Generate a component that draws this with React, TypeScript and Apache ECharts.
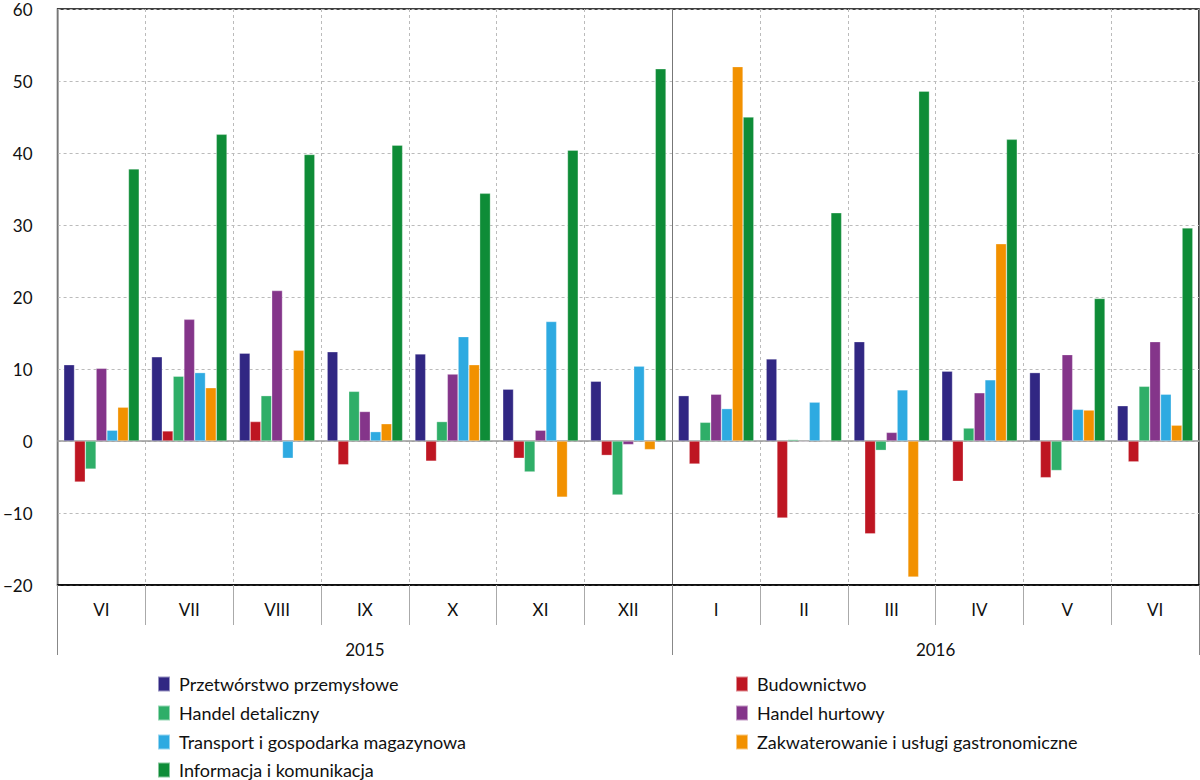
import React, { useEffect, useRef } from "react";
import * as echarts from "echarts";

const months = ["VI", "VII", "VIII", "IX", "X", "XI", "XII", "I", "II", "III", "IV", "V", "VI"];
const yearLabels = ["2015", "2016"];
const yearCenters = [3.5, 10];
const yearBounds = [0, 7, 13];

const seriesNames = [
  "Przetwórstwo przemysłowe",
  "Budownictwo",
  "Handel detaliczny",
  "Handel hurtowy",
  "Transport i gospodarka magazynowa",
  "Zakwaterowanie i usługi gastronomiczne",
  "Informacja i komunikacja",
];
const colors = ["#312783", "#be1622", "#2fae68", "#84358a", "#2eaae1", "#f29100", "#0e8c37"];

const przetworstwo = [10.6, 11.7, 12.2, 12.4, 12.1, 7.2, 8.3, 6.3, 11.4, 13.8, 9.7, 9.5, 4.9];
const budownictwo = [-5.7, 1.4, 2.7, -3.3, -2.8, -2.4, -2.0, -3.2, -10.7, -12.9, -5.6, -5.1, -2.9];
const handelDetaliczny = [-3.9, 9.0, 6.3, 6.9, 2.7, -4.3, -7.5, 2.6, 0.2, -1.3, 1.8, -4.1, 7.6];
const handelHurtowy = [10.1, 16.9, 20.9, 4.1, 9.3, 1.5, -0.5, 6.5, -0.1, 1.2, 6.7, 12.0, 13.8];
const transport = [1.5, 9.5, -2.4, 1.3, 14.5, 16.6, 10.4, 4.5, 5.4, 7.1, 8.5, 4.4, 6.5];
const zakwaterowanie = [4.7, 7.4, 12.6, 2.4, 10.6, -7.8, -1.2, 52.0, 0, -18.9, 27.4, 4.3, 2.2];
const informacja = [37.8, 42.6, 39.8, 41.1, 34.4, 40.4, 51.7, 45.0, 31.7, 48.6, 41.9, 19.8, 29.6];

const seriesData = [przetworstwo, budownictwo, handelDetaliczny, handelHurtowy, transport, zakwaterowanie, informacja];

// legend layout: [series index, column, row]
const legendSlots = [
  [0, 0, 0],
  [1, 1, 0],
  [2, 0, 1],
  [3, 1, 1],
  [4, 0, 2],
  [5, 1, 2],
  [6, 0, 3],
];

const FONT = "Lato";

export default function App() {
  const ref = useRef<HTMLDivElement>(null);
  useEffect(() => {
    if (!ref.current) return;
    const chart = echarts.init(ref.current, null, { renderer: "svg" });
    const legendText = { fontFamily: FONT, fontSize: 18, color: "#111", lineHeight: 16, padding: [0, 0, 0, 4] };
    const colLeft = [157, 735];
    const rowTop = [675, 704, 733, 761];
    chart.setOption({
      animation: false,
      grid: {
        left: 54,
        right: 1,
        top: 9,
        bottom: 195,
        show: true,
        borderColor: "#000",
        borderWidth: 1.5,
        containLabel: false,
      },
      legend: legendSlots.map(([si, c, r]) => ({
        orient: "horizontal",
        left: colLeft[c],
        top: rowTop[r],
        padding: 0,
        itemWidth: 12,
        itemHeight: 15,
        icon: "rect",
        data: [seriesNames[si]],
        textStyle: legendText,
      })),
      xAxis: [
        {
          type: "category",
          data: months,
          position: "bottom",
          axisLine: { show: true, onZero: false, lineStyle: { color: "#000", width: 1.5 } },
          axisTick: { show: true, length: 40, interval: 0, lineStyle: { color: "#aaa" } },
          axisLabel: { interval: 0, margin: 16, fontFamily: FONT, fontSize: 17, color: "#111" },
          splitLine: { show: true, interval: 0, lineStyle: { color: "#bbb", type: [3, 3] } },
        },
        {
          type: "value",
          min: 0,
          max: 13,
          position: "bottom",
          axisLine: { show: false, onZero: false },
          axisTick: { show: true, length: 70, customValues: yearBounds, lineStyle: { color: "#888" } },
          axisLabel: {
            customValues: yearCenters,
            margin: 56,
            fontFamily: FONT,
            fontSize: 17,
            color: "#111",
            formatter: (v: number) => {
              const i = yearCenters.indexOf(v);
              return i >= 0 ? yearLabels[i] : "";
            },
          },
          splitLine: { show: true, lineStyle: { color: "#777", width: 1, type: "solid" } },
        },
        {
          type: "category",
          data: months,
          position: "bottom",
          axisLine: { show: true, onZero: true, lineStyle: { color: "#999", width: 1.5 } },
          axisTick: { show: false },
          axisLabel: { show: false },
          splitLine: { show: false },
        },
      ],
      yAxis: {
        type: "value",
        min: -20,
        max: 60,
        interval: 10,
        axisLine: { show: false, onZero: false },
        axisTick: { show: false },
        axisLabel: {
          margin: 25,
          fontFamily: FONT,
          fontSize: 17,
          color: "#111",
          formatter: (v: number) => String(v).replace("-", "\u2212"),
        },
        splitLine: { show: true, lineStyle: { color: "#bbb", type: [3, 3] } },
      },
      series: seriesNames.map((name, i) => ({
        name,
        type: "bar",
        xAxisIndex: 0,
        data: seriesData[i],
        barGap: "0%",
        barCategoryGap: "14%",
        itemStyle: { color: colors[i], borderColor: "rgba(255,255,255,0.5)", borderWidth: 0.6 },
      })),
    });
    return () => chart.dispose();
  }, []);
  return <div ref={ref} style={{ position: "absolute", left: 0, top: 0, width: 1200, height: 780 }} />;
}
